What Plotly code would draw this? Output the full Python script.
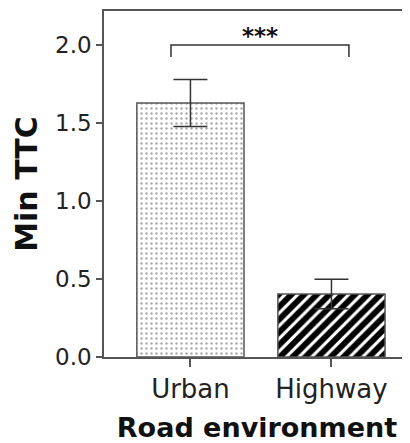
import plotly.graph_objects as go

categories = ["Urban", "Highway"]
means = [1.628, 0.404]
errors = [0.151, 0.094]
bar_patterns = [".", "/"]
y_ticks = [0.0, 0.5, 1.0, 1.5, 2.0]
y_tick_labels = ["0.0", "0.5", "1.0", "1.5", "2.0"]
sig_label = "***"
bracket_x = [-0.138, 1.124]
bracket_y = [1.923, 2.0]

fig = go.Figure()
for i, cat in enumerate(categories):
    fig.add_trace(go.Bar(
        x=[cat], y=[means[i]],
        width=0.76,
        marker=dict(
            color="white",
            line=dict(color="#555555", width=1.5),
            pattern=dict(shape=bar_patterns[i],
                         fgcolor="#aaaaaa" if i == 0 else "#000000",
                         bgcolor="white",
                         fgopacity=1,
                         size=5 if i == 0 else 9,
                         solidity=0.18 if i == 0 else 0.65),
        ),
        error_y=dict(type="data", array=[errors[i]], visible=True,
                     color="#333333", thickness=1.5, width=17),
        showlegend=False,
    ))

# significance bracket
fig.add_shape(type="path", xref="x", yref="y",
              path=f"M {bracket_x[0]},{bracket_y[0]} L {bracket_x[0]},{bracket_y[1]} "
                   f"L {bracket_x[1]},{bracket_y[1]} L {bracket_x[1]},{bracket_y[0]}",
              line=dict(color="#333333", width=1.5))
fig.add_annotation(x=(bracket_x[0] + bracket_x[1]) / 2, y=bracket_y[1], text=f"<b>{sig_label}</b>",
                   showarrow=False, yanchor="bottom", yshift=-6,
                   font=dict(family="DejaVu Sans", size=23, color="#111111"))

fig.update_layout(
    width=402, height=435,
    margin=dict(l=96, r=0, t=3, b=86),
    paper_bgcolor="white", plot_bgcolor="white",
    font=dict(family="DejaVu Sans", color="#222222"),
    xaxis=dict(
        range=[-0.613, 1.557],
        showline=True, linecolor="#555555", linewidth=1.5, mirror=True,
        ticks="outside", ticklen=8, tickwidth=1.5, tickcolor="#555555",
        tickfont=dict(size=26, color="#222222"),
        title=dict(text="<b>Road environment</b>", font=dict(size=27, color="#111111"), standoff=16),
        showgrid=False, zeroline=False,
    ),
    yaxis=dict(
        range=[0, 2.218],
        showline=True, linecolor="#555555", linewidth=1.5,
        ticks="outside", ticklen=6, tickwidth=1.5, tickcolor="#555555",
        tickvals=y_ticks, ticktext=y_tick_labels,
        tickfont=dict(size=23, color="#222222"),
        title=dict(text="<b>Min TTC</b>", font=dict(size=30, color="#111111"), standoff=9),
        showgrid=False, zeroline=False,
    ),
)

fig.write_html("out.html")
